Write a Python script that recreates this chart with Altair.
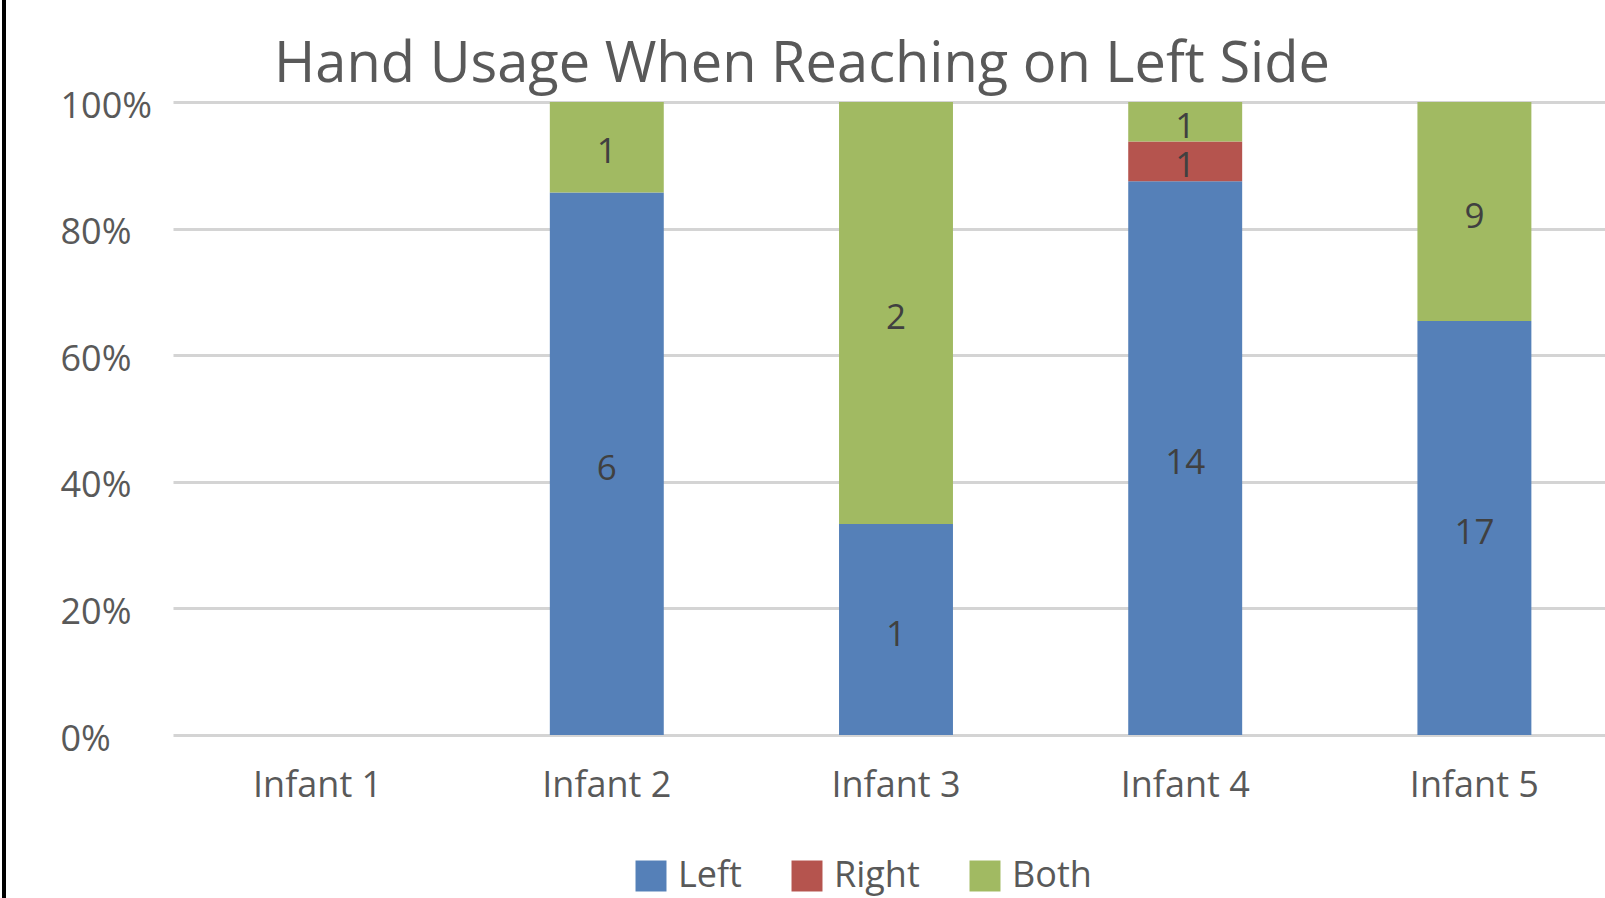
import altair as alt
import pandas as pd

infants = ["Infant 1", "Infant 2", "Infant 3", "Infant 4", "Infant 5"]
hands = ["Left", "Right", "Both"]
left = [0, 6, 1, 14, 17]
right = [0, 0, 0, 1, 0]
both = [0, 1, 2, 1, 9]
colors = ["#5580B8", "#B5544E", "#A1BA62"]
y_ticks = [0, 0.2, 0.4, 0.6, 0.8, 1.0]

rows = []
for i, inf in enumerate(infants):
    for k, (h, vals) in enumerate(zip(hands, [left, right, both])):
        if vals[i] > 0:
            rows.append({"infant": inf, "hand": h, "count": vals[i], "order": k})
df = pd.DataFrame(rows)

FONT = "Open Sans"
GRAY = "#595959"
FS = 36

x_scale = alt.Scale(domain=infants, range=[0, 1446], paddingInner=0.606, paddingOuter=0.303)
x_enc = alt.X(
    "infant:N",
    scale=x_scale,
    axis=alt.Axis(title=None, domain=False, ticks=False, labelAngle=0, labelFont=FONT,
                  labelFontSize=FS, labelColor=GRAY, labelPadding=33, grid=False),
)
y_scale = alt.Scale(domain=[0, 1])

bars = alt.Chart(df).mark_bar().encode(
    x=x_enc,
    y=alt.Y("count:Q", stack="normalize", scale=y_scale,
            axis=alt.Axis(title=None, values=y_ticks, format=".0%", domain=False, ticks=False,
                          grid=True, gridColor="#D4D4D4", gridWidth=3,
                          labelFont=FONT, labelFontSize=FS, labelColor=GRAY,
                          labelAlign="left", labelPadding=113, labelOffset=4)),
    color=alt.Color("hand:N", scale=alt.Scale(domain=hands, range=colors),
                    legend=alt.Legend(title=None, orient="none", legendX=460, legendY=756,
                                      direction="horizontal", symbolType="square",
                                      symbolSize=960, symbolStrokeWidth=0, labelFont=FONT,
                                      labelFontSize=FS, labelColor=GRAY, columnPadding=47,
                                      labelOffset=9, padding=0)),
    order=alt.Order("order:Q", sort="ascending"),
)

labels = alt.Chart(df).transform_joinaggregate(
    total="sum(count)", groupby=["infant"]
).transform_window(
    cum="sum(count)", sort=[alt.SortField("order")], groupby=["infant"], frame=[None, 0]
).transform_calculate(
    mid="(datum.cum - datum.count / 2) / datum.total"
).mark_text(font=FONT, fontSize=35, color="#404040", baseline="middle", dy=5).encode(
    x=alt.X("infant:N", scale=x_scale),
    y=alt.Y("mid:Q", scale=y_scale),
    text="count:Q",
)

border = alt.Chart(pd.DataFrame({"a": [0]})).mark_rule(color="black", strokeWidth=4).encode(
    x=alt.value(-169), y=alt.value(-102), y2=alt.value(796)
)

chart = alt.layer(bars, labels, border).properties(
    width=1432, height=633,
    padding={"left": 173, "top": 102, "right": 0, "bottom": 163},
    autosize="none",
    title=alt.TitleParams("Hand Usage When Reaching on Left Side", font=FONT, fontSize=56,
                          fontWeight="normal", color=GRAY, anchor="middle", frame="group",
                          dx=-87, offset=-96),
).configure_view(stroke=None)

chart.save("out.html", embed_options={"renderer": "svg", "actions": False})
